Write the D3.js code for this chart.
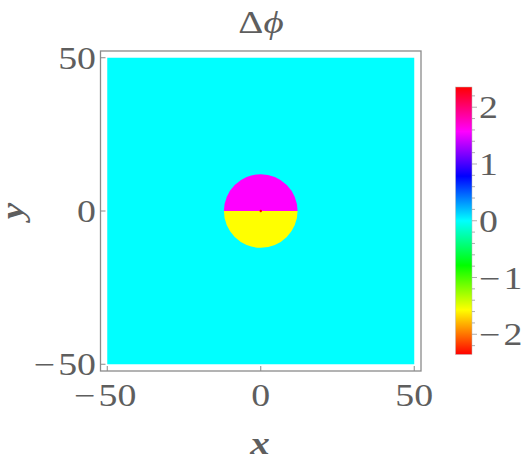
<!DOCTYPE html>
<html>
<head>
<meta charset="utf-8">
<script src="https://cdn.jsdelivr.net/npm/d3@7"></script>
<style>
  body { margin: 0; background: #fff; }
</style>
</head>
<body>
<svg id="chart" width="526" height="463"></svg>
<script>
// field regions of the phase difference (values in radians)
const regionNames = ["background", "upper half", "lower half"];
const regionValues = [0, Math.PI / 2, -Math.PI / 2];
const diskRadius = 12;            // radius of the disk, in x/y units
const diskCenter = [0, 0];
const centerValue = 3 * Math.PI / 4; // tiny red point at origin

const extent = [-50, 50];
const axisTicks = [-50, 0, 50];
const colorRange = [-3 * Math.PI / 4, 3 * Math.PI / 4];
const colorTicks = [-2, -1, 0, 1, 2];

const FONT = "'Liberation Serif', 'DejaVu Serif', 'Times New Roman', serif";
const GREY = "#5e5e5e";
const STRETCH = 1.22; // the reference glyphs are wider than Liberation Serif

const svg = d3.select("#chart");

// scales
const x = d3.scaleLinear().domain([-52.2, 52.2]).range([100.5, 421]);
const y = d3.scaleLinear().domain([-52.2, 52.2]).range([371, 51]);

// Mathematica style Hue colour function
const hue = d3.scaleLinear().domain(colorRange).range([0, 1]).clamp(true);
const color = v => d3.hsl(hue(v) * 360, 1, 0.5).toString();

// background
svg.append("rect")
    .attr("x", x(extent[0]))
    .attr("y", y(extent[1]))
    .attr("width", x(extent[1]) - x(extent[0]))
    .attr("height", y(extent[0]) - y(extent[1]))
    .attr("fill", color(regionValues[0]));

// half disks
const rpx = x(diskRadius) - x(0);
const arc = d3.arc().innerRadius(0).outerRadius(rpx);
const halves = [
    { v: regionValues[1], a0: -Math.PI / 2, a1: Math.PI / 2 },
    { v: regionValues[2], a0: Math.PI / 2, a1: 3 * Math.PI / 2 }
];
svg.selectAll(".half")
    .data(halves)
    .enter()
    .append("path")
    .attr("class", "half")
    .attr("transform", `translate(${x(diskCenter[0])},${y(diskCenter[1])})`)
    .attr("d", d => arc({ startAngle: d.a0, endAngle: d.a1 }))
    .attr("fill", d => color(d.v));

svg.append("circle")
    .attr("cx", x(diskCenter[0]))
    .attr("cy", y(diskCenter[1]))
    .attr("r", 1.2)
    .attr("fill", color(centerValue));

// frame
svg.append("rect")
    .attr("x", x.range()[0])
    .attr("y", y.range()[1])
    .attr("width", x.range()[1] - x.range()[0])
    .attr("height", y.range()[0] - y.range()[1])
    .attr("fill", "none")
    .attr("stroke", "#8a8a8a")
    .attr("stroke-width", 1.3);

// frame ticks
svg.selectAll(".xtick")
    .data(axisTicks)
    .enter()
    .append("line")
    .attr("x1", d => x(d)).attr("x2", d => x(d))
    .attr("y1", y.range()[0]).attr("y2", y.range()[0] - 5)
    .attr("stroke", "#8a8a8a");

svg.selectAll(".ytick")
    .data(axisTicks)
    .enter()
    .append("line")
    .attr("y1", d => y(d)).attr("y2", d => y(d))
    .attr("x1", x.range()[0]).attr("x2", x.range()[0] + 5)
    .attr("stroke", "#8a8a8a");

const fmt = d => d < 0 ? "\u2212\u200A" + Math.abs(d) : String(d);

// stretched text helper
function label(sel, px, py, anchor, size) {
    return sel.append("text")
        .attr("transform", `translate(${px},${py}) scale(${STRETCH},1)`)
        .attr("text-anchor", anchor)
        .attr("font-family", FONT)
        .attr("font-size", size)
        .attr("fill", GREY);
}

// tick labels
axisTicks.forEach(d => {
    label(svg, x(d) - (d < 0 ? 2 : 0), 406, "middle", 31).text(fmt(d));
    label(svg, 96, y(d) + 11, "end", 31).text(fmt(d));
});

// title and axis labels
label(svg, 261, 33, "middle", 32)
    .html('Δ<tspan font-style="italic">ϕ</tspan>');

label(svg, 260, 454, "middle", 32)
    .attr("font-style", "italic")
    .attr("font-weight", "bold")
    .text("x");

svg.append("text")
    .attr("transform", "translate(23,211) rotate(-90) scale(1.15,1)")
    .attr("text-anchor", "middle")
    .attr("font-family", FONT)
    .attr("font-size", 32)
    .attr("font-style", "italic")
    .attr("font-weight", "bold")
    .attr("fill", GREY)
    .text("y");

// colour bar
const barX = 455.5, barW = 16.5;
const cb = d3.scaleLinear().domain(colorRange).range([354.5, 87]);

const grad = svg.append("defs").append("linearGradient")
    .attr("id", "hueGrad")
    .attr("x1", 0).attr("y1", 1).attr("x2", 0).attr("y2", 0);
grad.selectAll("stop")
    .data(d3.range(0, 1.0001, 1 / 24))
    .enter()
    .append("stop")
    .attr("offset", d => d)
    .attr("stop-color", d => color(colorRange[0] + d * (colorRange[1] - colorRange[0])));

svg.append("rect")
    .attr("x", barX)
    .attr("y", cb(colorRange[1]))
    .attr("width", barW)
    .attr("height", cb(colorRange[0]) - cb(colorRange[1]))
    .attr("fill", "url(#hueGrad)")
    .attr("stroke", "#bbb")
    .attr("stroke-width", 0.5);

const minor = d3.range(-2.2, 2.21, 0.2).map(v => Math.round(v * 10) / 10);
svg.selectAll(".cbtick")
    .data(minor)
    .enter()
    .append("line")
    .attr("x1", barX + barW)
    .attr("x2", d => barX + barW + (Number.isInteger(d) ? 5 : 3))
    .attr("y1", d => cb(d)).attr("y2", d => cb(d))
    .attr("stroke", "#9a9a9a")
    .attr("stroke-width", 0.8);

colorTicks.forEach(d => {
    label(svg, 479, cb(d) + 11, "start", 31).text(fmt(d));
});
</script>
</body>
</html>
